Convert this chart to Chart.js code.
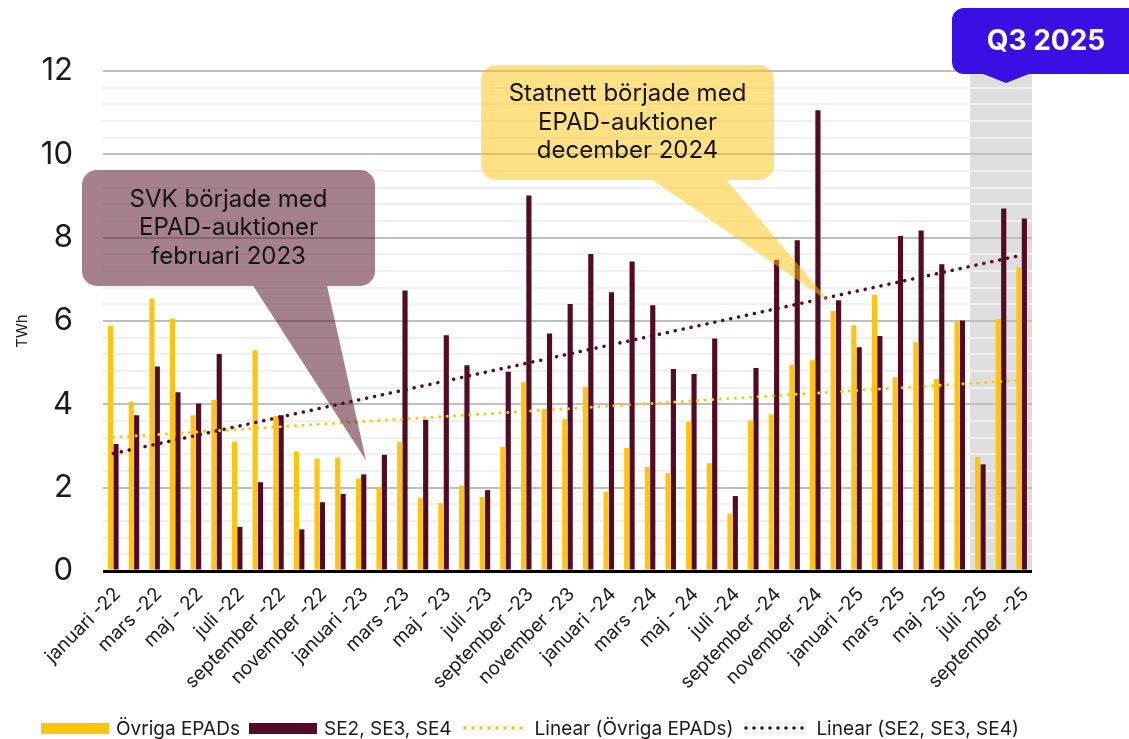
<!DOCTYPE html>
<html><head><meta charset="utf-8">
<script src="https://cdn.jsdelivr.net/npm/chart.js@4.4.1/dist/chart.umd.min.js"></script>
<style>
html,body{margin:0;padding:0;background:#fff;}
#wrap{position:relative;width:1129px;height:739px;overflow:hidden;}
#c{position:absolute;left:0;top:0;}
#legend{position:absolute;left:41px;top:717px;height:22px;display:flex;align-items:center;font-family:Inter,sans-serif;font-size:19px;color:#1a1a1a;white-space:nowrap;}
#legend .sw{display:inline-block;width:68px;height:11px;margin-right:7px;}
#legend .dots{display:inline-block;width:64px;height:4px;margin-right:10px;background-repeat:repeat-x;background-size:8px 4px;}
#legend .item{display:flex;align-items:center;margin-right:9px;}
</style></head>
<body>
<div id="wrap">
<canvas id="c" width="1129" height="739"></canvas>
<div id="legend"></div>
</div>
<script>
// ---- data ----
const months = [
 'januari -22','februari -22','mars -22','april -22','maj - 22','juni -22','juli -22','augusti -22','september -22','oktober -22','november -22','december -22',
 'januari -23','februari -23','mars -23','april -23','maj - 23','juni -23','juli -23','augusti -23','september -23','oktober -23','november -23','december -23',
 'januari -24','februari -24','mars -24','april -24','maj - 24','juni -24','juli -24','augusti -24','september -24','oktober -24','november -24','december -24',
 'januari -25','februari -25','mars -25','april -25','maj -25','juni -25','juli -25','augusti -25','september -25'
];
const ovrigaEPADs = [
 5.88,4.06,6.54,6.06,3.74,4.11,3.10,5.30,3.72,2.87,2.70,2.72,
 2.22,2.00,3.10,1.75,1.63,2.05,1.78,2.98,4.53,3.89,3.65,4.42,
 1.90,2.95,2.50,2.35,3.58,2.59,1.38,3.61,3.76,4.95,5.06,6.24,
 5.90,6.63,4.65,5.49,4.61,5.98,2.74,6.04,7.28
];
const se234 = [
 3.05,3.74,4.91,4.29,4.02,5.21,1.06,2.13,3.74,1.00,1.65,1.85,
 2.32,2.79,6.73,3.63,5.66,4.94,1.94,4.78,9.01,5.70,6.41,7.61,
 6.69,7.43,6.38,4.85,4.73,5.58,1.80,4.87,7.47,7.94,11.06,6.50,
 5.37,5.64,8.04,8.17,7.36,6.01,2.56,8.70,8.46
];
// trend-line end values (first and last month)
const trendOvrigaEnds = [3.21, 4.58];
const trendSEEnds = [2.82, 7.58];
const yMajorLabels = ['0','2','4','6','8','10','12'];
const seriesNames = ['Övriga EPADs','SE2, SE3, SE4','Linear (Övriga EPADs)','Linear (SE2, SE3, SE4)'];
const highlightMonths = ['juli -25','augusti -25','september -25'];
const highlightLabel = 'Q3 2025';
const noteSVK = ['SVK började med','EPAD-auktioner','februari 2023'];
const noteStatnett = ['Statnett började med','EPAD-auktioner','december 2024'];

// ---- styles ----
const YELLOW = '#FFC40C';
const MAROON = '#530B25';
const FONT = 'Inter, "Noto Sans", sans-serif';

function ends(arr){ return months.map((m,i)=> i===0 ? arr[0] : (i===months.length-1 ? arr[1] : null)); }
function isMajor(v){ return Math.abs(v/2 - Math.round(v/2)) < 1e-6; }

function roundRectPath(ctx,x,y,w,h,r){
  ctx.moveTo(x+r,y); ctx.lineTo(x+w-r,y); ctx.arcTo(x+w,y,x+w,y+r,r);
  ctx.lineTo(x+w,y+h-r); ctx.arcTo(x+w,y+h,x+w-r,y+h,r);
  ctx.lineTo(x+r,y+h); ctx.arcTo(x,y+h,x,y+h-r,r);
  ctx.lineTo(x,y+r); ctx.arcTo(x,y,x+r,y,r); ctx.closePath();
}
function bubble(ctx, box, base, tip, fill, lines, font, lh){
  ctx.save();
  ctx.beginPath();
  roundRectPath(ctx, box.x, box.y, box.w, box.h, box.r);
  const by = box.y + box.h - 0.5;
  ctx.moveTo(base[0], by); ctx.lineTo(base[1], by); ctx.lineTo(tip[0], tip[1]); ctx.closePath();
  ctx.fillStyle = fill; ctx.fill('nonzero');
  ctx.fillStyle = '#141414'; ctx.font = font; ctx.textAlign='center'; ctx.textBaseline='middle';
  const cx = box.x + box.w/2, cy = box.y + box.h/2;
  lines.forEach((t,i)=> ctx.fillText(t, cx, cy + (i-(lines.length-1)/2)*lh));
  ctx.restore();
}

const decor = {
  id:'decor',
  beforeDraw(chart){
    const {ctx, chartArea:a, scales:{x}} = chart;
    const i0 = months.indexOf(highlightMonths[0]);
    const step = x.getPixelForValue(1) - x.getPixelForValue(0);
    const left = x.getPixelForValue(i0) - step/2;
    ctx.save(); ctx.fillStyle = '#DEDEDE';
    ctx.fillRect(left, a.top - 10, a.right - left, a.bottom - a.top + 10);
    ctx.restore();
  },
  afterDraw(chart){
    const {ctx, chartArea:a, scales:{x,y}} = chart;
    // y axis title
    ctx.save(); ctx.translate(22, 331); ctx.rotate(-Math.PI/2);
    ctx.font = '15px '+FONT; ctx.fillStyle = '#1a1a1a'; ctx.textAlign='center'; ctx.textBaseline='middle';
    ctx.fillText('TWh',0,0); ctx.restore();

    // SVK bubble -> tip near januari/februari 2023
    const svkTip = [x.getPixelForValue(12) + 5, y.getPixelForValue(2.65)];
    bubble(ctx, {x:82, y:170, w:293, h:116, r:15}, [253, 327], svkTip,
      'rgba(83,11,37,0.52)', noteSVK, '24px '+FONT, 28.5);
    // Statnett bubble -> tip near december 2024
    const stTip = [x.getPixelForValue(35) - 6, y.getPixelForValue(6.45)];
    bubble(ctx, {x:481, y:65, w:293, h:115, r:15}, [652, 726], stTip,
      'rgba(255,196,12,0.5)', noteStatnett, '24px '+FONT, 28.5);

    // Q3 2025 tag
    const i0 = months.indexOf(highlightMonths[0]);
    const step = x.getPixelForValue(1) - x.getPixelForValue(0);
    const gl = x.getPixelForValue(i0) - step/2;
    const gc = (gl + a.right)/2 + 5;
    ctx.save();
    ctx.beginPath();
    roundRectPath(ctx, 952, 8, 200, 66, 12);
    ctx.moveTo(gc-24, 73.5); ctx.lineTo(gc+24, 73.5); ctx.lineTo(gc, 83); ctx.closePath();
    ctx.fillStyle = '#3A0FE3'; ctx.fill();
    ctx.fillStyle = '#fff'; ctx.font = 'bold 28px '+FONT; ctx.textAlign='center'; ctx.textBaseline='middle';
    ctx.fillText(highlightLabel, 1046, 42);
    ctx.restore();
  }
};

const chart = new Chart(document.getElementById('c'), {
  data: {
    labels: months,
    datasets: [
      {type:'line', label:seriesNames[2], data:ends(trendOvrigaEnds), borderColor:YELLOW, borderWidth:3,
       borderDash:[0.1,7.5], borderCapStyle:'round', pointRadius:0, spanGaps:true, order:0},
      {type:'line', label:seriesNames[3], data:ends(trendSEEnds), borderColor:MAROON, borderWidth:3.5,
       borderDash:[0.1,8], borderCapStyle:'round', pointRadius:0, spanGaps:true, order:0},
      {type:'bar', label:seriesNames[0], data:ovrigaEPADs, backgroundColor:YELLOW, barPercentage:0.96, categoryPercentage:0.52, order:1},
      {type:'bar', label:seriesNames[1], data:se234, backgroundColor:MAROON, barPercentage:0.96, categoryPercentage:0.52, order:1}
    ]
  },
  options: {
    responsive:false, animation:false,
    layout:{padding:{left:0, right:97, top:71, bottom:0}},
    plugins:{legend:{display:false}, tooltip:{enabled:false}},
    scales:{
      x:{
        offset:true,
        grid:{display:false}, border:{display:false},
        ticks:{autoSkip:false, maxRotation:45, minRotation:45, padding:4, labelOffset:4, color:'#1a1a1a',
               font:{family:FONT, size:19},
               callback:(v,i)=> i%2===0 ? months[i] : ''},
        afterFit(s){ s.height = 168; }
      },
      y:{
        min:0, max:12,
        border:{display:false},
        grid:{drawTicks:false,
              color:c=>{ const v=c.tick.value; if(Math.abs(v)<1e-6) return '#000'; return isMajor(v)?'#BFBFBF':'#F0F0F0'; },
              lineWidth:c=>{ const v=c.tick.value; if(Math.abs(v)<1e-6) return 3; return 2; }},
        ticks:{stepSize:0.4, autoSkip:false, padding:30, color:'#1a1a1a', font:{family:FONT, size:31},
               callback:v=> isMajor(v) ? yMajorLabels[Math.round(v/2)] : ''},
        afterFit(s){ s.width = 103; }
      }
    }
  },
  plugins:[decor]
});

// HTML legend
const lg = document.getElementById('legend');
const dot = c => `radial-gradient(circle at 4px 2px, ${c} 1.4px, transparent 1.9px)`;
lg.innerHTML =
 `<span class="item"><span class="sw" style="background:${YELLOW}"></span>${seriesNames[0]}</span>`+
 `<span class="item"><span class="sw" style="background:${MAROON}"></span>${seriesNames[1]}</span>`+
 `<span class="item"><span class="dots" style="background-image:${dot(YELLOW)}"></span>${seriesNames[2]}</span>`+
 `<span class="item"><span class="dots" style="background-image:${dot(MAROON)}"></span>${seriesNames[3]}</span>`;
</script>
</body></html>
